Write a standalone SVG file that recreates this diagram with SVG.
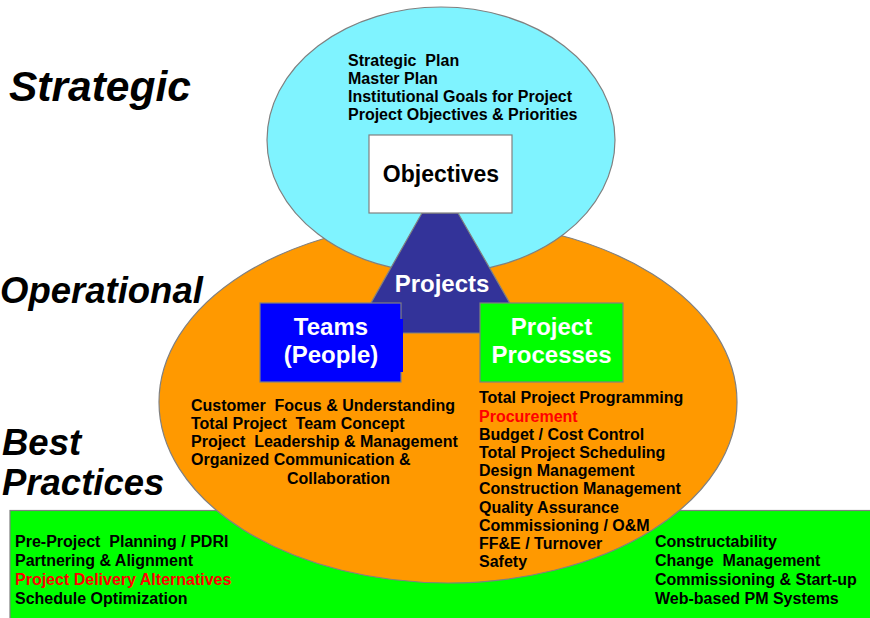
<svg xmlns="http://www.w3.org/2000/svg" width="870" height="618" viewBox="0 0 870 618">
<style>
text{font-family:"Liberation Sans",Arial,sans-serif;font-weight:bold;white-space:pre}
.big{font-style:italic;fill:#000}
.item{font-size:16px;fill:#000}
.red{fill:#FF0000}
.shape{stroke:#808080;stroke-width:1.2}
.lbl{font-size:24px;fill:#fff;text-anchor:middle}
</style>
<rect width="870" height="618" fill="#fff"/>
<g id="level-labels">
<text class="big" x="9" y="101" font-size="42.5">Strategic</text>
<text class="big" x="0" y="303" font-size="36.5">Operational</text>
<text class="big" x="2" y="455" font-size="36.5">Best</text>
<text class="big" x="2" y="495" font-size="36.5">Practices</text>
</g>
<g id="best-practices">
<rect class="shape" x="10" y="510.5" width="870" height="120" fill="#00FF00"/>
</g>
<g id="operational">
<ellipse class="shape" cx="448" cy="402" rx="289" ry="181" fill="#FF9900"/>
</g>
<g id="strategic">
<ellipse class="shape" cx="441" cy="140" rx="174" ry="133" fill="#7FF3FF"/>
<text class="item" x="348" y="65.5">Strategic  Plan</text>
<text class="item" x="348" y="83.5">Master Plan</text>
<text class="item" x="348" y="101.5">Institutional Goals for Project</text>
<text class="item" x="348" y="119.5">Project Objectives &amp; Priorities</text>
</g>
<g id="projects">
<polygon class="shape" points="422,213 458,213 527,333 354,333" fill="#333399"/>
<text class="lbl" x="442" y="292" font-size="26.5">Projects</text>
</g>
<g id="objectives">
<rect class="shape" x="369" y="135" width="143" height="78" fill="#fff"/>
<text x="441" y="182" font-size="23" text-anchor="middle" fill="#000">Objectives</text>
</g>
<g id="teams">
<rect class="shape" x="260" y="303" width="141" height="79" fill="#0000FF"/>
<rect x="261" y="319" width="142" height="53" fill="#0000FF"/>
<text class="lbl" x="331" y="335">Teams</text>
<text class="lbl" x="331" y="363">(People)</text>
</g>
<g id="project-processes">
<rect class="shape" x="480" y="303" width="143" height="79" fill="#00FF00"/>
<text class="lbl" x="551.5" y="335">Project</text>
<text class="lbl" x="551.5" y="363">Processes</text>
</g>
<g id="team-items">
<text class="item" x="191" y="410.5">Customer  Focus &amp; Understanding</text>
<text class="item" x="191" y="428.8">Total Project  Team Concept</text>
<text class="item" x="191" y="447">Project  Leadership &amp; Management</text>
<text class="item" x="191" y="465.3">Organized Communication &amp;</text>
<text class="item" x="287" y="483.5">Collaboration</text>
</g>
<g id="process-items">
<text class="item" x="479" y="403.3">Total Project Programming</text>
<text class="item red" x="479" y="421.5">Procurement</text>
<text class="item" x="479" y="439.7">Budget / Cost Control</text>
<text class="item" x="479" y="457.9">Total Project Scheduling</text>
<text class="item" x="479" y="476.1">Design Management</text>
<text class="item" x="479" y="494.3">Construction Management</text>
<text class="item" x="479" y="512.5">Quality Assurance</text>
<text class="item" x="479" y="530.7">Commissioning / O&amp;M</text>
<text class="item" x="479" y="548.9">FF&amp;E / Turnover</text>
<text class="item" x="479" y="567.1">Safety</text>
</g>
<g id="best-practice-items">
<text class="item" x="15" y="547">Pre-Project  Planning / PDRI</text>
<text class="item" x="15" y="566">Partnering &amp; Alignment</text>
<text class="item red" x="15" y="585">Project Delivery Alternatives</text>
<text class="item" x="15" y="604">Schedule Optimization</text>
<text class="item" x="655" y="547">Constructability</text>
<text class="item" x="655" y="566">Change  Management</text>
<text class="item" x="655" y="585">Commissioning &amp; Start-up</text>
<text class="item" x="655" y="604">Web-based PM Systems</text>
</g>
<g id="connectors"></g>
</svg>
